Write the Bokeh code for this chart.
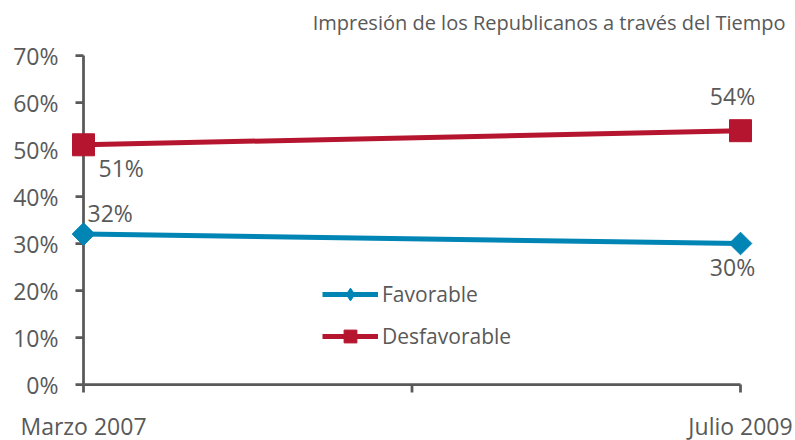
import math
from bokeh.plotting import figure
from bokeh.models import Range1d, Label, LabelSet, Legend, LegendItem, ColumnDataSource
from bokeh.core.properties import value
from bokeh.embed import file_html
from bokeh.resources import INLINE

# data
categories = ["Marzo 2007", "Julio 2009"]
x_pos = [0, 1]
x_tick_pos = [0, 0.5, 1]
favorable = [32, 30]
desfavorable = [51, 54]
y_ticks = [0, 10, 20, 30, 40, 50, 60, 70]
y_tick_labels = [f"{t}%" for t in y_ticks]
title_text = "Impresión de los Republicanos a través del Tiempo"

FONT = "Open Sans"
GREY = "#595959"
RED = "#B5152E"
BLUE = "#0085B5"

W, H = 795, 440
# plot area (axis lines) placement in pixels
ax_left, ax_right, ax_top, ax_bottom = 83, 740, 55, 384
xs = (ax_right - ax_left) / 1.0
ys = (ax_bottom - ax_top) / 70.0

p = figure(width=W, height=H, output_backend="svg", toolbar_location=None,
           x_range=Range1d(-ax_left / xs, 1 + (W - ax_right) / xs),
           y_range=Range1d(-(H - ax_bottom) / ys, 70 + ax_top / ys),
           x_axis_type=None, y_axis_type=None,
           min_border_left=0, min_border_right=0, min_border_top=0, min_border_bottom=0)
p.outline_line_color = None
p.grid.visible = False
p.background_fill_color = "white"
p.border_fill_color = "white"

# title
p.add_layout(Label(x=1, y=70, text=title_text, x_offset=45, y_offset=33,
                   text_align="right", text_baseline="middle", text_font=FONT,
                   text_font_size="20px", text_color=GREY))

# axis lines
p.segment(x0=[0, 0], y0=[0, 0], x1=[0, 1], y1=[y_ticks[-1], 0],
          line_color=GREY, line_width=2.75)
# ticks
p.ray(x=[0] * len(y_ticks), y=y_ticks, length=8, length_units="screen",
      angle=math.pi, line_color=GREY, line_width=2.75)
p.ray(x=x_tick_pos, y=[0] * len(x_tick_pos), length=8, length_units="screen",
      angle=-math.pi / 2, line_color=GREY, line_width=2.75)

# tick labels
ysrc = ColumnDataSource(dict(x=[0] * len(y_ticks), y=y_ticks, t=y_tick_labels))
p.add_layout(LabelSet(x="x", y="y", text="t", source=ysrc, x_offset=-25,
                      text_align="right", text_baseline="middle", text_font=value(FONT),
                      text_font_size="23px", text_color=GREY))
xsrc = ColumnDataSource(dict(x=x_pos, y=[0, 0], t=categories))
p.add_layout(LabelSet(x="x", y="y", text="t", source=xsrc, y_offset=-41,
                      text_align="center", text_baseline="middle", text_font=value(FONT),
                      text_font_size="23px", text_color=GREY))

# series
l1 = p.line(x_pos, favorable, line_color=BLUE, line_width=5)
d1 = p.scatter(x_pos, favorable, marker="diamond", size=20,
               fill_color=BLUE, line_color=BLUE)
m1 = p.scatter(x_pos, favorable, marker="square", angle=math.pi / 4, size=16,
               fill_color=BLUE, line_color=BLUE)
l2 = p.line(x_pos, desfavorable, line_color=RED, line_width=5)
m2 = p.scatter(x_pos, desfavorable, marker="square", size=22, fill_color=RED, line_color=RED)

legend = Legend(items=[LegendItem(label="Favorable", renderers=[l1, d1]),
                       LegendItem(label="Desfavorable", renderers=[l2, m2])],
                location=(322, 88), orientation="vertical",
                background_fill_alpha=0, border_line_color=None,
                glyph_width=56, glyph_height=32, label_standoff=4, spacing=10,
                label_text_font=FONT, label_text_font_size="21px", label_text_color=GREY,
                padding=0, margin=0)
p.add_layout(legend, "center")

# data labels
offsets = {
    ("f", 0): (4, 5, "left", "bottom"),
    ("f", 1): (-8, -7, "center", "top"),
    ("d", 0): (15, -7, "left", "top"),
    ("d", 1): (-8, 19, "center", "bottom"),
}
for key, series in (("f", favorable), ("d", desfavorable)):
    for i, v in enumerate(series):
        xo, yo, al, bl = offsets[(key, i)]
        p.add_layout(Label(x=x_pos[i], y=v, text=f"{v}%", x_offset=xo, y_offset=yo,
                           text_align=al, text_baseline=bl, text_font=FONT,
                           text_font_size="23px", text_color=GREY))

open("out.html", "w").write(file_html(p, INLINE))
